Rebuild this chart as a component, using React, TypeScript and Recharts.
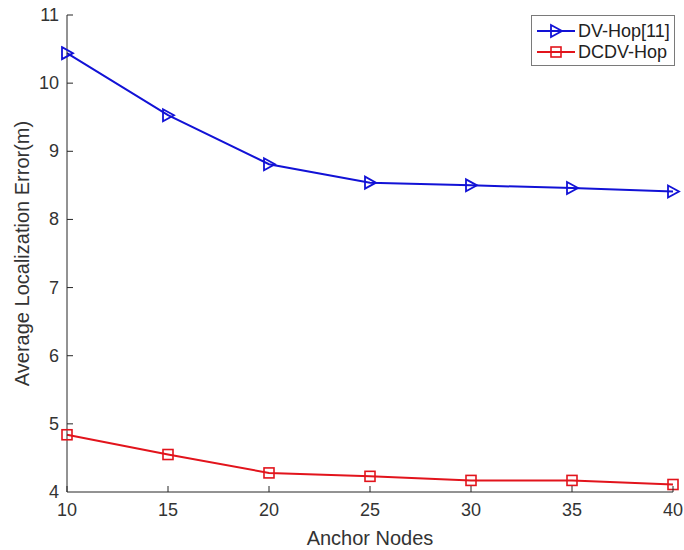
import React from "react";
import { LineChart, Line, XAxis, YAxis } from "recharts";

const anchorNodes = [10, 15, 20, 25, 30, 35, 40];
const dvHop = [10.44, 9.53, 8.81, 8.54, 8.5, 8.46, 8.41];
const dcdvHop = [4.84, 4.55, 4.28, 4.23, 4.17, 4.17, 4.11];
const xTicks = [10, 15, 20, 25, 30, 35, 40];
const yTicks = [4, 5, 6, 7, 8, 9, 10, 11];

const data = anchorNodes.map((n, i) => ({ n, dv: dvHop[i], dc: dcdvHop[i] }));

const BLUE = "#1212d6";
const RED = "#e2141c";
const AXIS = "#262626";
const TEXT = "#333333";
const FONT = "'Liberation Sans', Arial, Helvetica, sans-serif";

const Tri = (props: any) => {
  const { cx, cy } = props;
  if (cx == null || cy == null) return null;
  return (
    <path
      d={`M${cx - 5},${cy - 6} L${cx + 6},${cy} L${cx - 5},${cy + 6} Z`}
      fill="none"
      stroke={BLUE}
      strokeWidth={1.8}
    />
  );
};

const Sq = (props: any) => {
  const { cx, cy } = props;
  if (cx == null || cy == null) return null;
  return <rect x={cx - 5} y={cy - 5} width={10} height={10} fill="none" stroke={RED} strokeWidth={1.6} />;
};

const YTick = (props: any) => {
  const { x, y, payload } = props;
  const ax = x + 8;
  return (
    <g>
      {payload.value !== 4 ? <line x1={ax} y1={y} x2={ax + 6} y2={y} stroke={AXIS} strokeWidth={1} /> : null}
      <text x={x} y={y} dy={6} textAnchor="end" fill={TEXT} fontSize={18} fontFamily={FONT}>
        {payload.value}
      </text>
    </g>
  );
};

const XTick = (props: any) => {
  const { x, y, payload } = props;
  const ay = y - 8;
  return (
    <g>
      <line x1={x} y1={ay} x2={x} y2={ay - 6} stroke={AXIS} strokeWidth={1} />
      <text x={x} y={y} dy={16} textAnchor="middle" fill={TEXT} fontSize={18} fontFamily={FONT}>
        {payload.value}
      </text>
    </g>
  );
};

const LegendBox = () => (
  <div
    style={{
      position: "absolute",
      left: 531,
      top: 15,
      width: 144,
      height: 51,
      border: "1px solid #7a7a7a",
      background: "#fff",
      boxSizing: "border-box",
    }}
  >
    <svg width={142} height={49} style={{ display: "block" }}>
      <line x1={5} y1={15} x2={43} y2={15} stroke={BLUE} strokeWidth={2} />
      <path d="M19,9 L30,15 L19,21 Z" fill="none" stroke={BLUE} strokeWidth={1.8} />
      <text x={46} y={21} fontSize={18} fontFamily={FONT} fill="#222">DV-Hop[11]</text>
      <line x1={5} y1={36} x2={43} y2={36} stroke={RED} strokeWidth={2} />
      <rect x={19} y={31} width={10} height={10} fill="none" stroke={RED} strokeWidth={1.6} />
      <text x={46} y={42} fontSize={18} fontFamily={FONT} fill="#222">DCDV-Hop</text>
    </svg>
  </div>
);

export default function App() {
  return (
    <div style={{ position: "absolute", left: 0, top: 0, width: 684, height: 550, background: "#fff" }}>
      <LineChart width={684} height={550} data={data} margin={{ top: 15, right: 11, bottom: 0, left: 0 }}>
        <XAxis
          dataKey="n"
          type="number"
          domain={[10, 40]}
          ticks={xTicks}
          height={58}
          tickSize={0}
          tickMargin={8}
          tick={<XTick />}
          stroke={AXIS}
          axisLine={{ stroke: AXIS }}
          label={{ value: "Anchor Nodes", position: "insideBottom", offset: 5, fill: TEXT, fontSize: 20, fontFamily: FONT }}
        />
        <YAxis
          type="number"
          domain={[4, 11]}
          ticks={yTicks}
          width={67}
          tickSize={0}
          tickMargin={8}
          tick={<YTick />}
          stroke={AXIS}
          axisLine={{ stroke: AXIS }}
          label={{
            value: "Average Localization Error(m)",
            angle: -90,
            position: "insideLeft",
            dx: 17,
            dy: 0,
            style: { textAnchor: "middle" },
            fill: TEXT,
            fontSize: 20,
            fontFamily: FONT,
          }}
        />
        <Line dataKey="dv" stroke={BLUE} strokeWidth={2} dot={<Tri />} activeDot={false} isAnimationActive={false} />
        <Line dataKey="dc" stroke={RED} strokeWidth={2} dot={<Sq />} activeDot={false} isAnimationActive={false} />
      </LineChart>
      <LegendBox />
    </div>
  );
}
